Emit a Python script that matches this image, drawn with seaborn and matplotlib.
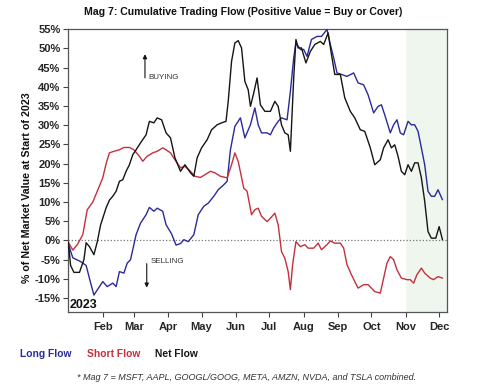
import matplotlib
matplotlib.use("Agg")
import matplotlib.pyplot as plt
import seaborn as sns
import pandas as pd
import numpy as np

# ---------------- data (day of year 2023, Jan 1 = 0; values in %) ----------------
long_days = [0, 4, 11, 16, 20, 23, 28, 31, 35, 40, 43, 46, 50, 53, 56, 61, 65, 70, 73, 77,
             80, 85, 88, 93, 97, 101, 104, 108, 113, 117, 122, 126, 131, 135, 140, 143, 146, 150, 155, 159,
             164, 168, 171, 174, 179, 182, 185, 189, 192, 197, 200, 203, 205, 209, 212, 215, 219, 224, 228, 233,
             236, 239, 242, 246, 251, 257, 261, 266, 270, 275, 279, 282, 285, 290, 293, 296, 299, 302, 306, 309,
             312, 315, 318, 321, 324, 327, 330, 333, 337]
long_vals = [-1, -4.5, -5.5, -6.5, -11, -14.2, -12, -10.7, -12, -11.1, -12, -8.1, -8.5, -5.9, -5.0, 1.5, 4.5, 6.7, 8.6, 7.6,
             8.4, 7.6, 4.1, 1.7, -1.2, -0.8, 0.2, -0.3, 1.5, 6.7, 8.9, 9.7, 11.5, 13.2, 14.5, 15.4, 23.6, 29.7, 31.9, 26.7,
             30.1, 34.5, 30.1, 28, 28, 27.5, 29.3, 31, 31.9, 31.4, 38.8, 47.5, 51.4, 49.7, 49.7, 47.9, 52.3, 53.1, 53.1, 54.9,
             51, 47.5, 43.6, 43.2, 42.7, 43.6, 41, 40.5, 37.9, 33.2, 34.9, 35.3, 32.7, 28, 30.1, 31.4, 28, 27.5, 31, 30.1,
             30.1, 28.4, 24.1, 19.7, 12.8, 11.5, 11.5, 13.2, 10.6]

short_days = [0, 4, 8, 13, 17, 22, 26, 31, 34, 37, 41, 46, 50, 55, 59, 64, 67, 71, 76, 80,
              85, 88, 92, 96, 101, 105, 110, 114, 119, 123, 128, 132, 137, 143, 147, 150, 153, 158, 161, 165,
              168, 171, 174, 179, 182, 186, 189, 192, 195, 198, 200, 202, 205, 209, 213, 216, 221, 225, 228, 233,
              236, 240, 245, 248, 251, 255, 258, 261, 266, 270, 276, 281, 284, 287, 290, 293, 296, 300, 305, 308,
              311, 314, 318, 321, 326, 329, 333, 337]
short_vals = [-0.5, -2.5, -1.1, 1.5, 8, 10, 12.8, 16.3, 20, 22.8, 23.2, 23.6, 24.2, 24.2, 23.6, 21.9, 20.6, 21.9, 22.8, 23.2,
              24.1, 23.6, 22.8, 21, 18.9, 19.3, 18, 16.7, 16.4, 17.1, 18, 17.6, 16.7, 16.3, 19.7, 22.8, 20.6, 13.6, 12.8, 6.7,
              8, 8.4, 6.3, 4.9, 5.8, 7.1, 4.1, -2.9, -4.6, -8.1, -12.8, -6.3, -0.3, -1.6, -1.1, -2, -2, -0.7, -2.4, -1.1,
              -0.1, -0.7, -0.7, -2, -6.3, -8.9, -10.7, -12.4, -11.5, -11.5, -13.3, -13.7, -9.8, -5.9, -4.2, -5, -7.6, -9.8, -10.2, -10.2,
              -11.1, -8.9, -7.2, -8.5, -9.8, -10.2, -9.4, -9.8]

net_days = [0, 2, 5, 10, 14, 16, 19, 23, 26, 29, 34, 37, 40, 43, 46, 49, 52, 55, 58, 61,
            65, 70, 73, 77, 80, 84, 88, 92, 96, 101, 105, 110, 113, 116, 120, 125, 129, 134, 138, 142,
            144, 147, 150, 153, 156, 159, 162, 164, 167, 170, 173, 177, 182, 186, 189, 192, 195, 198, 200, 203,
            205, 207, 210, 214, 218, 222, 227, 230, 234, 237, 240, 245, 249, 254, 258, 263, 267, 272, 276, 281,
            284, 288, 291, 294, 297, 300, 303, 306, 309, 312, 315, 318, 321, 324, 327, 331, 334, 337]
net_vals = [-0.5, -6.5, -8.3, -8.3, -5, -0.6, -1.6, -3.7, -0.4, 4, 8.5, 10.5, 11.5, 12.8, 15.4, 15.8, 18, 19.7, 22.3, 23.6,
            25.4, 27.5, 31, 30.6, 31.9, 31.4, 28, 26.7, 21.5, 18, 19.7, 17.6, 16.7, 21.5, 24.1, 26.2, 28.8, 30.1, 30.6, 31,
            36.2, 46.6, 51.4, 52, 50.1, 41.4, 39.2, 34.9, 38.4, 42.3, 35.3, 33.6, 33.6, 36.2, 34.9, 30.1, 28, 27.5, 23.2, 42.3,
            52.3, 50.1, 50.1, 46.2, 49.2, 51, 51.8, 51, 54, 48.4, 43.2, 43.2, 37.1, 33.6, 31.9, 28.8, 28.4, 24.1, 19.7, 21,
            24.1, 26.2, 24.1, 24.9, 21.9, 18, 17.1, 19.7, 18, 20.2, 20.2, 16.3, 10.2, 2.3, 0.6, 0.6, 3.6, 0.2]

series_names = ["Long Flow", "Short Flow", "Net Flow"]
series_colors = ["#2a2a9c", "#c4303c", "#151515"]

month_labels = ["Feb", "Mar", "Apr", "May", "Jun", "Jul", "Aug", "Sep", "Oct", "Nov", "Dec"]
month_days = [31, 59, 90, 120, 151, 181, 212, 243, 273, 304, 334]
y_ticks = [-15, -10, -5, 0, 5, 10, 15, 20, 25, 30, 35, 40, 45, 50, 55]

shade_start = 304  # Nov 1

title = "Mag 7: Cumulative Trading Flow (Positive Value = Buy or Cover)"
ylabel = "% of Net Market Value at Start of 2023"
footnote = "* Mag 7 = MSFT, AAPL, GOOGL/GOOG, META, AMZN, NVDA, and TSLA combined."

# ---------------- build table ----------------
df = pd.concat([
    pd.DataFrame({"day": long_days, "value": long_vals, "series": series_names[0]}),
    pd.DataFrame({"day": short_days, "value": short_vals, "series": series_names[1]}),
    pd.DataFrame({"day": net_days, "value": net_vals, "series": series_names[2]}),
], ignore_index=True)

sns.set_style("ticks")
FAM = ["Liberation Sans", "DejaVu Sans"]
plt.rcParams["font.family"] = FAM

fig = plt.figure(figsize=(4.86, 3.88), dpi=100)
ax = fig.add_axes([0.140, 0.196, 0.780, 0.729])

XMIN, XMAX = -0.3, 341.2
YMIN, YMAX = -18.6, 55.0

ax.axvspan(shade_start, XMAX, color="#eef6ee", zorder=0, lw=0)
ax.axhline(0, color="#777777", lw=0.9, ls=(0, (1, 1.6)), zorder=1)

sns.lineplot(data=df, x="day", y="value", hue="series", hue_order=series_names,
             palette=dict(zip(series_names, series_colors)), estimator=None,
             linewidth=1.0, legend=False, ax=ax, zorder=3)

ax.set_xlim(XMIN, XMAX)
ax.set_ylim(YMIN, YMAX)
ax.set_xticks(month_days)
ax.set_xticklabels(month_labels, fontweight="bold", fontsize=8)
ax.set_yticks(y_ticks)
ax.set_yticklabels([f"{v}%" for v in y_ticks], fontweight="bold", fontsize=8)
ax.tick_params(axis="both", direction="out", length=3.5, width=0.8, color="#444444", pad=2)
ax.tick_params(axis="x", pad=4)
ax.set_xlabel("")
ax.set_ylabel("")
for s in ax.spines.values():
    s.set_visible(True)
    s.set_color("#555555")
    s.set_linewidth(0.9)

# annotations
ax.annotate("", xy=(69, 49.2), xytext=(69, 41.6),
            arrowprops=dict(arrowstyle="-|>", color="#111111", lw=0.8, mutation_scale=6))
ax.text(72.5, 42.5, "BUYING", fontsize=5.8, color="#333333", va="center", ha="left")
ax.annotate("", xy=(70.6, -13.0), xytext=(70.6, -5.3),
            arrowprops=dict(arrowstyle="-|>", color="#111111", lw=0.8, mutation_scale=6))
ax.text(74.5, -5.6, "SELLING", fontsize=5.8, color="#333333", va="center", ha="left")
ax.text(1.5, -16.8, "2023", fontsize=9, fontweight="bold", color="#111111", va="center", ha="left")

# figure texts
fig.text(0.501, 0.969, title, ha="center", va="center", fontsize=7.6, fontweight="bold", color="#111111")
fig.text(0.056, 0.515, ylabel, rotation=90, ha="center", va="center", fontsize=7.7,
         fontweight="bold", color="#111111")

leg_x = [20, 87, 155]
for name, col, lx in zip(series_names, series_colors, leg_x):
    fig.text(lx / 486, 1 - 354 / 388, name, ha="left", va="center", fontsize=7.4,
             fontweight="bold", color=col)

fig.text(247 / 486, 1 - 378 / 388, footnote, ha="center", va="center", fontsize=6.5,
         style="italic", color="#333333")

fig.savefig("out.png", dpi=100)
